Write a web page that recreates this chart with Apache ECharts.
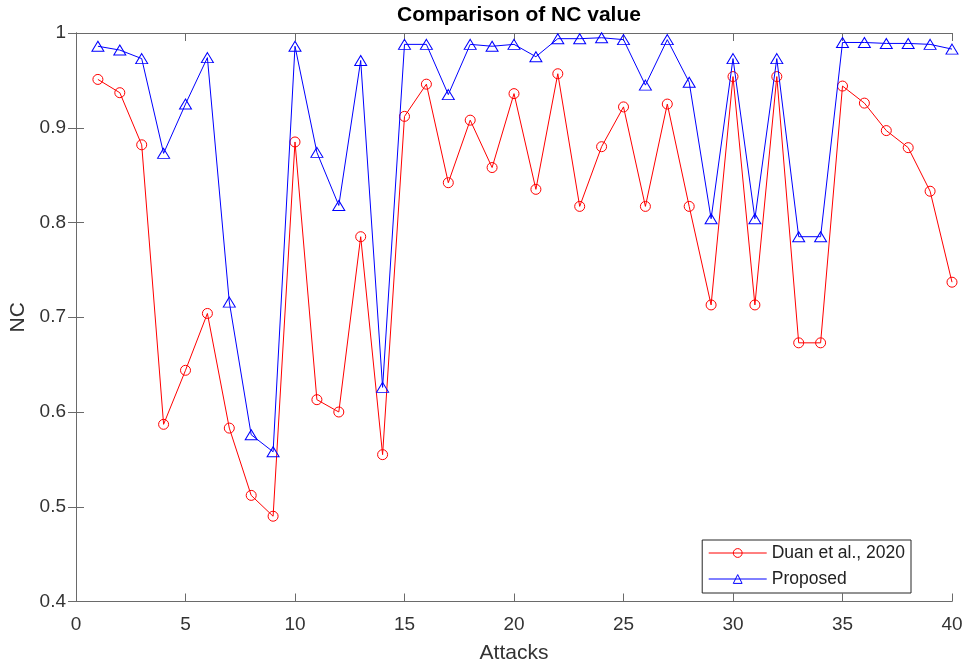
<!DOCTYPE html>
<html>
<head>
<meta charset="utf-8">
<script src="https://cdn.jsdelivr.net/npm/echarts@6/dist/echarts.min.js"></script>
<style>
  html, body { margin: 0; padding: 0; background: #fff; }
  #chart { width: 966px; height: 666px; }
</style>
</head>
<body>
<div id="chart"></div>
<script>
// Attack index 1..40
const attacks = Array.from({ length: 40 }, (_, i) => i + 1);

// NC values of the reference scheme
const duan2020 = [
  0.951, 0.937, 0.882, 0.587, 0.644, 0.704, 0.583, 0.512, 0.490, 0.885,
  0.613, 0.600, 0.785, 0.555, 0.912, 0.946, 0.842, 0.908, 0.858, 0.936,
  0.835, 0.957, 0.817, 0.880, 0.922, 0.817, 0.925, 0.817, 0.713, 0.954,
  0.713, 0.954, 0.673, 0.673, 0.944, 0.926, 0.897, 0.879, 0.833, 0.737
];

// NC values of the proposed scheme
const proposed = [
  0.986, 0.982, 0.973, 0.873, 0.925, 0.974, 0.716, 0.576, 0.558, 0.986,
  0.874, 0.818, 0.971, 0.626, 0.988, 0.988, 0.935, 0.988, 0.986, 0.988,
  0.975, 0.994, 0.994, 0.995, 0.993, 0.945, 0.993, 0.948, 0.804, 0.973,
  0.804, 0.973, 0.785, 0.785, 0.990, 0.990, 0.989, 0.989, 0.988, 0.983
];

const xTicks = [0, 5, 10, 15, 20, 25, 30, 35, 40];
const yTicks = [0.4, 0.5, 0.6, 0.7, 0.8, 0.9, 1];

const FONT = '"Liberation Sans", Arial, sans-serif';
const AXIS_COLOR = '#6a6a6a';
const TEXT_COLOR = '#333333';
const RED = '#ff0000';
const BLUE = '#0000ff';
const HOLLOW = 'rgba(0,0,0,0)';

const chart = echarts.init(document.getElementById('chart'), null, { renderer: 'canvas' });

const pairs = (ys) => attacks.map((x, i) => [x, ys[i]]);

// Shared style for the four sides of the axes box
const boxAxis = (extra) => Object.assign({
  type: 'value',
  axisLine: { show: true, lineStyle: { color: AXIS_COLOR, width: 1 } },
  axisTick: { show: true, inside: true, length: 8, lineStyle: { color: AXIS_COLOR } },
  splitLine: { show: false },
}, extra);

chart.setOption({
  animation: false,
  backgroundColor: '#fff',
  title: {
    text: 'Comparison of NC value',
    left: 514, top: 0, textAlign: 'center',
    textStyle: { fontFamily: FONT, fontSize: 21, fontWeight: 'bold', color: '#000' }
  },
  legend: {
    right: 55, bottom: 73,
    orient: 'vertical',
    itemWidth: 58, itemHeight: 11, itemGap: 8,
    padding: [4, 6, 5, 6],
    borderColor: '#262626', borderWidth: 1,
    backgroundColor: '#fff',
    textStyle: { fontFamily: FONT, fontSize: 17.5, color: '#222' },
    data: [
      {
        name: 'Duan et al., 2020',
        itemStyle: { color: HOLLOW, borderColor: RED, borderWidth: 1 },
        lineStyle: { color: RED, width: 1 }
      },
      {
        name: 'Proposed',
        itemStyle: { color: HOLLOW, borderColor: BLUE, borderWidth: 1 },
        lineStyle: { color: BLUE, width: 1 }
      }
    ]
  },
  grid: { left: 76, right: 14, top: 33, bottom: 64.5, outerBoundsMode: 'none' },
  xAxis: [
    boxAxis({
      min: 0, max: 40, interval: 5,
      name: 'Attacks', nameLocation: 'middle', nameGap: 41,
      nameTextStyle: { fontFamily: FONT, fontSize: 21, color: TEXT_COLOR },
      axisLabel: {
        fontFamily: FONT, fontSize: 19, color: TEXT_COLOR, margin: 14,
        formatter: (v) => xTicks.includes(v) ? String(v) : ''
      }
    }),
    boxAxis({ position: 'top', min: 0, max: 40, interval: 5, axisLabel: { show: false } })
  ],
  yAxis: [
    boxAxis({
      min: 0.4, max: 1, interval: 0.1,
      name: 'NC', nameLocation: 'middle', nameGap: 35, nameRotate: 90,
      nameTextStyle: { fontFamily: FONT, fontSize: 21, color: TEXT_COLOR },
      axisLabel: {
        fontFamily: FONT, fontSize: 19, color: TEXT_COLOR, margin: 10,
        formatter: (v) => {
          const r = Math.round(v * 10) / 10;
          return yTicks.includes(r) ? String(r) : '';
        }
      }
    }),
    boxAxis({ position: 'right', min: 0.4, max: 1, interval: 0.1, axisLabel: { show: false } })
  ],
  series: [
    {
      name: 'Duan et al., 2020',
      type: 'line',
      data: pairs(duan2020),
      symbol: 'circle', symbolSize: 10,
      lineStyle: { color: RED, width: 1 },
      itemStyle: { color: HOLLOW, borderColor: RED, borderWidth: 1 },
      z: 2
    },
    {
      name: 'Proposed',
      type: 'line',
      data: pairs(proposed),
      symbol: 'triangle', symbolSize: [12, 10],
      lineStyle: { color: BLUE, width: 1 },
      itemStyle: { color: HOLLOW, borderColor: BLUE, borderWidth: 1 },
      z: 3
    }
  ]
});
</script>
</body>
</html>
